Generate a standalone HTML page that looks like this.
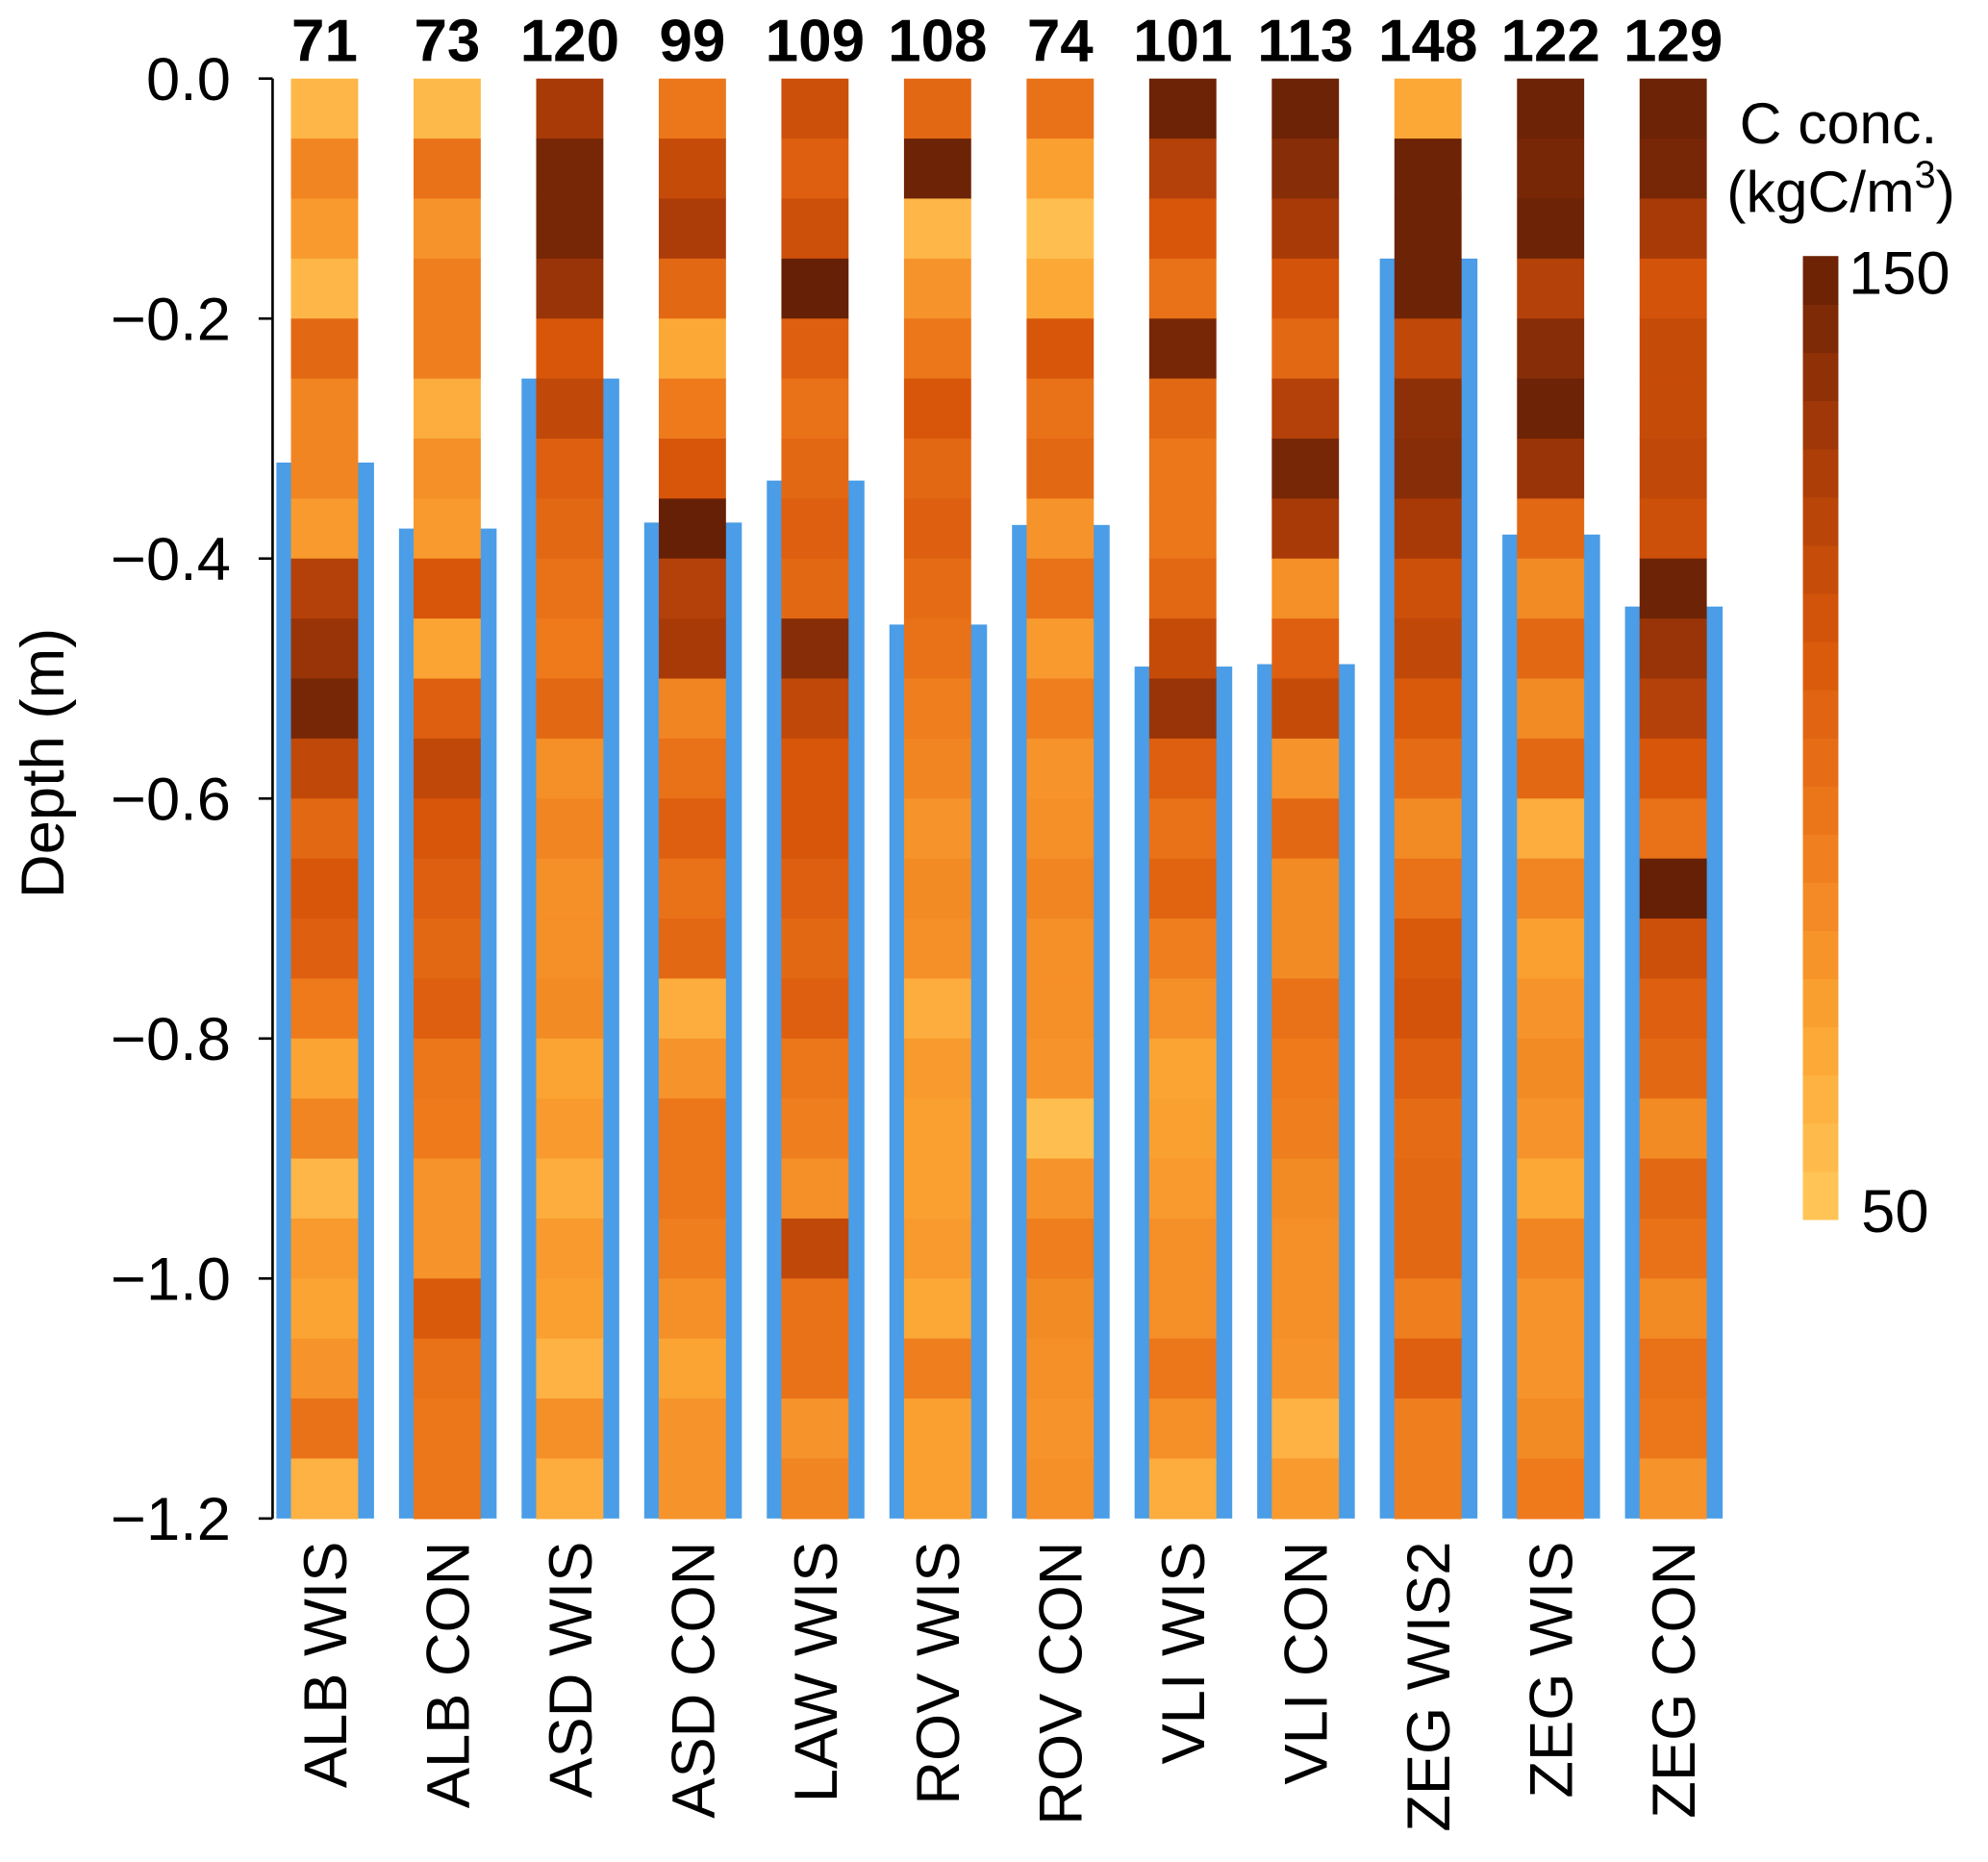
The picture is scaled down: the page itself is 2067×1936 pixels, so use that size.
<!DOCTYPE html>
<html><head><meta charset="utf-8"><style>
html,body{margin:0;padding:0;background:#fff;}
svg{display:block;font-family:"Liberation Sans",Arial,sans-serif;}
</style></head><body>
<svg id="chart" width="2067" height="1936" viewBox="0 0 1568 1469" preserveAspectRatio="none" xmlns="http://www.w3.org/2000/svg">
<g id="bars"></g>
<g id="cells"></g>
<g id="axis"></g>
<g id="cbar"></g>
<text transform="translate(50,602) rotate(-90)" text-anchor="middle" font-size="48">Depth (m)</text>
<text x="1450" y="113" text-anchor="middle" font-size="46">C conc.</text>
<text x="1452" y="167" text-anchor="middle" font-size="46">(kgC/m<tspan font-size="30" dy="-19">3</tspan><tspan dy="19">)</tspan></text>
</svg>
<script>
const categories=["ALB WIS","ALB CON","ASD WIS","ASD CON","LAW WIS","ROV WIS","ROV CON","VLI WIS","VLI CON","ZEG WIS2","ZEG WIS","ZEG CON"];
const totals=[71,73,120,99,109,108,74,101,113,148,122,129];
const barTops=[-0.32,-0.375,-0.25,-0.37,-0.335,-0.455,-0.372,-0.49,-0.488,-0.15,-0.38,-0.44];
const yTicks=[0,-0.2,-0.4,-0.6,-0.8,-1.0,-1.2];
const yTickLabels=["0.0","\u22120.2","\u22120.4","\u22120.6","\u22120.8","\u22121.0","\u22121.2"];
const cellDepth=0.05;
const conc=[
[60,85,75,60,100,85,85,75,125,135,145,120,100,110,105,90,70,85,60,75,70,78,95,62],
[58,95,78,88,88,65,80,75,110,70,105,120,110,105,100,105,92,90,78,78,108,95,92,92],
[130,145,145,135,110,120,105,100,95,90,100,80,85,80,80,82,70,75,65,75,72,62,80,65],
[92,118,128,100,68,90,110,150,125,130,85,95,105,95,100,65,78,92,92,88,80,70,78,78],
[115,105,115,150,105,95,100,105,100,140,120,110,110,105,100,105,92,88,80,120,95,95,78,85],
[100,148,60,78,92,110,100,105,98,95,88,85,78,82,80,65,75,72,72,75,68,88,72,72],
[95,72,55,68,110,95,100,78,95,75,88,78,80,85,80,80,78,55,78,88,82,80,78,80],
[148,125,110,95,145,100,92,92,100,118,135,105,95,102,88,80,70,72,75,80,80,92,80,65],
[148,140,130,112,100,125,145,130,80,105,118,78,100,82,82,95,90,88,82,80,80,78,62,75],
[68,148,148,148,120,138,140,130,115,120,108,98,82,95,108,112,105,98,100,100,88,105,88,88],
[148,145,148,125,140,148,135,100,82,100,82,100,65,85,72,78,82,78,68,85,78,78,82,90],
[148,145,130,112,118,118,120,115,148,135,125,110,95,150,115,105,100,82,100,95,82,95,92,78]
];
const cbMin=50,cbMax=150,cbSteps=20;
const NS="http://www.w3.org/2000/svg";
const y=d=>62+(-d)*(1198-62)/1.2;
const xc=i=>256+i*96.7;
const stops=[[50,[255,200,90]],[70,[251,164,51]],[90,[238,122,28]],[110,[216,86,10]],[130,[168,58,8]],[150,[102,32,5]]];
function col(v){v=Math.max(50,Math.min(150,v));for(let k=0;k<stops.length-1;k++){const a=stops[k],b=stops[k+1];if(v<=b[0]){const t=(v-a[0])/(b[0]-a[0]);return "rgb("+a[1].map((c,j)=>Math.round(c+(b[1][j]-c)*t)).join(",")+")";}}return "rgb(102,32,5)";}
function el(tag,attrs,parent){const e=document.createElementNS(NS,tag);for(const k in attrs)e.setAttribute(k,attrs[k]);parent.appendChild(e);return e;}
const gb=document.getElementById('bars'),gc=document.getElementById('cells'),ga=document.getElementById('axis'),gk=document.getElementById('cbar'),svg=document.getElementById('chart');
categories.forEach((c,i)=>{
 const b=el('rect',{x:xc(i)-38,y:y(barTops[i]),width:77,height:y(-1.2)-y(barTops[i]),fill:'#4a9de6'},gb);
 
 
 conc[i].forEach((v,r)=>{
  const rc=el('rect',{x:xc(i)-26.5,y:y(-r*cellDepth),width:53,height:y(-(r+1)*cellDepth)-y(-r*cellDepth)+0.5,fill:col(v)},gc);
  
  
 });
 const t=el('text',{x:xc(i),y:48,'text-anchor':'middle','font-size':47,'font-weight':'bold'},svg);
 t.textContent=totals[i];
 
 
 const l=el('text',{transform:'translate('+(xc(i)+17)+',1216) rotate(-90)','text-anchor':'end','font-size':48},svg);
 l.textContent=c;
 
 
});
const al=el('line',{x1:215,x2:215,y1:62,y2:1198,stroke:'#000','stroke-width':2},ga);


yTicks.forEach((d,k)=>{
 const tk=el('line',{x1:204,x2:215,y1:y(d),y2:y(d),stroke:'#000','stroke-width':2},ga);
 
 
 const tl=el('text',{x:182,y:y(d)+17,'text-anchor':'end','font-size':48},ga);
 tl.textContent=yTickLabels[k];
 
 
});
const cbTop=202,cbBot=962,h=(cbBot-cbTop)/cbSteps;
for(let s=0;s<cbSteps;s++){
 const v=cbMin+(s+0.5)*(cbMax-cbMin)/cbSteps;
 const r=el('rect',{x:1422,y:cbBot-(s+1)*h,width:28,height:h+0.5,fill:col(v)},gk);
 
 
}
const c1=el('text',{x:1458,y:232,'font-size':48},gk);c1.textContent=cbMax;


const c2=el('text',{x:1468,y:972,'font-size':48},gk);c2.textContent=cbMin;


</script>
</body></html>
